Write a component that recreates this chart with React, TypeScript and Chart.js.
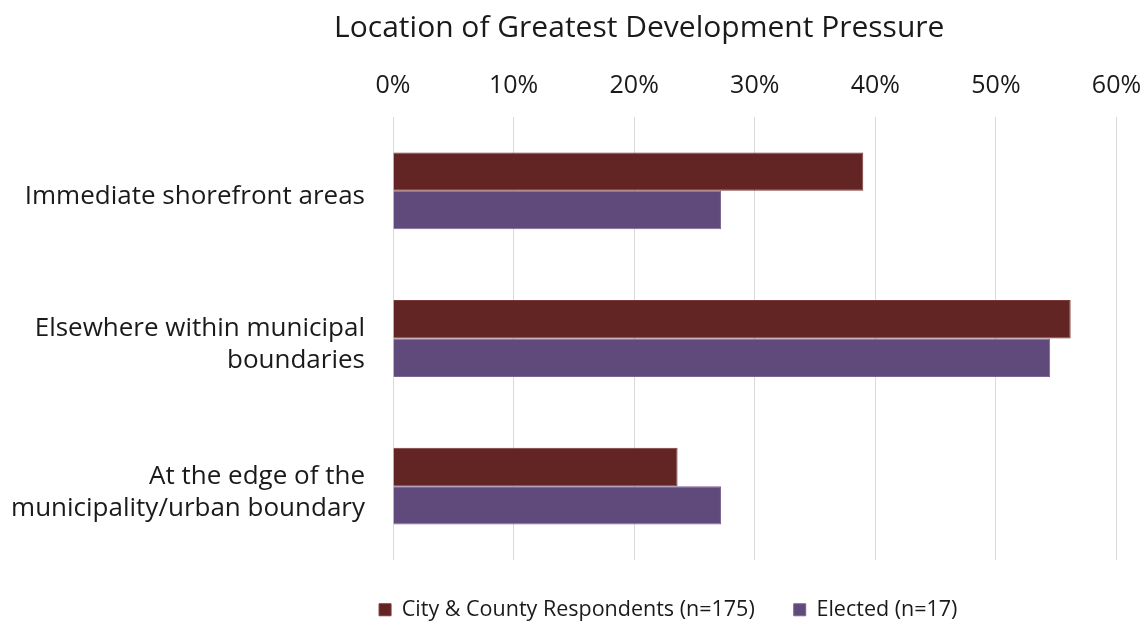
import React, { useEffect, useRef } from "react";
import { Chart, registerables } from "chart.js";

Chart.register(...registerables);

const chartTitle = "Location of Greatest Development Pressure";
const categories: string[][] = [
  ["Immediate shorefront areas"],
  ["Elsewhere within municipal", "boundaries"],
  ["At the edge of the", "municipality/urban boundary"],
];
const seriesNames = ["City & County Respondents (n=175)", "Elected (n=17)"];
const cityCountyValues = [39.0, 56.2, 23.6];
const electedValues = [27.2, 54.5, 27.2];
const axisMin = 0;
const axisMax = 60;
const axisStep = 10;

const FONT = "'Open Sans', 'Noto Sans', sans-serif";
const TEXT = "#1a1a1a";

const shiftBlocks = {
  id: "shiftBlocks",
  afterLayout(chart: any) {
    const t = chart.titleBlock;
    if (t) {
      t.left += 81;
      t.right += 81;
    }
    const l = chart.legend;
    if (l) {
      l.left += 110;
      l.right += 110;
    }
  },
};

export default function App() {
  const ref = useRef<HTMLCanvasElement | null>(null);

  useEffect(() => {
    if (!ref.current) return;
    const chart = new Chart(ref.current, {
      type: "bar",
      data: {
        labels: categories,
        datasets: [
          {
            label: seriesNames[0],
            data: cityCountyValues,
            backgroundColor: "#632523",
            borderColor: "#7a3a38",
            borderWidth: 1,
            categoryPercentage: 0.52,
            barPercentage: 1,
          },
          {
            label: seriesNames[1],
            data: electedValues,
            backgroundColor: "#604a7b",
            borderColor: "#7a6594",
            borderWidth: 1,
            categoryPercentage: 0.52,
            barPercentage: 1,
          },
        ],
      },
      options: {
        indexAxis: "y",
        animation: false,
        responsive: false,
        maintainAspectRatio: false,
        layout: { padding: { left: 0, right: 28.5, top: 0, bottom: -5.5 } },
        plugins: {
          title: {
            display: true,
            text: chartTitle,
            color: TEXT,
            font: { family: FONT, size: 30, weight: "normal" },
            padding: { top: 10, bottom: 8 },
          },
          legend: {
            position: "bottom",
            align: "center",
            labels: {
              color: TEXT,
              font: { family: FONT, size: 21.5 },
              boxWidth: 12,
              boxHeight: 12,
              padding: 39,
            },
          },
          tooltip: { enabled: false },
        },
        scales: {
          x: {
            type: "linear",
            position: "top",
            min: axisMin,
            max: axisMax,
            ticks: {
              stepSize: axisStep,
              color: TEXT,
              font: { family: FONT, size: 25 },
              padding: 16,
              callback: (v: any) => `${v}%`,
            },
            grid: { color: "#d9d9d9", lineWidth: 1, drawTicks: false },
            border: { display: false },
            afterFit: (s: any) => {
              s.height = 63;
              s.paddingRight = 0;
              s.paddingLeft = 0;
            },
          },
          y: {
            type: "category",
            ticks: {
              color: TEXT,
              font: { family: FONT, size: 26, lineHeight: 1.23 },
              padding: 28,
              labelOffset: 6,
            },
            grid: { display: false, drawTicks: false },
            border: { display: false },
            afterFit: (s: any) => {
              s.width = 393;
            },
          },
        },
      },
      plugins: [shiftBlocks],
    } as any);
    return () => chart.destroy();
  }, []);

  return (
    <div style={{ position: "absolute", left: 0, top: 0, width: 1145, height: 625, background: "#fff" }}>
      <canvas ref={ref} width={1145} height={625} style={{ display: "block" }} />
    </div>
  );
}
